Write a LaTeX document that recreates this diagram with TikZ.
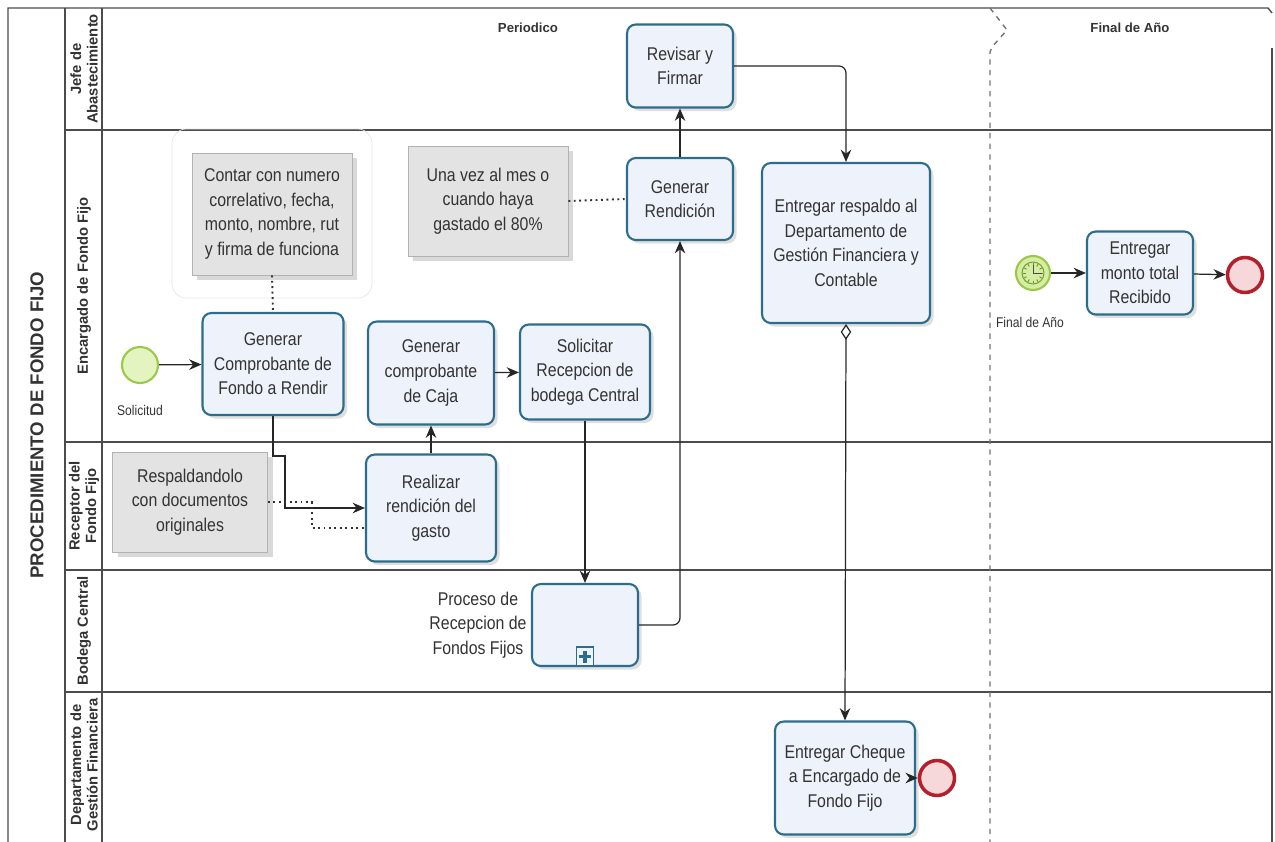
\documentclass[tikz,border=0pt]{standalone}
\usepackage{fontspec}
\setmainfont[FakeStretch=0.86]{Liberation Sans}
\newfontfamily\lanefont{Liberation Sans}
\usetikzlibrary{positioning,arrows.meta,shadows}

\definecolor{taskline}{HTML}{2C6D8C}
\definecolor{taskfill}{HTML}{EEF2FB}
\definecolor{notefill}{HTML}{E3E3E3}
\definecolor{startline}{HTML}{9AC84A}
\definecolor{startfill}{HTML}{E4F4C0}
\definecolor{timerfill}{HTML}{D6EEA2}
\definecolor{endline}{HTML}{B3202B}
\definecolor{endfill}{HTML}{F6D8DB}

\begin{document}
\begin{tikzpicture}[x=0.02cm, y=-0.02cm,
  every node/.style={inner sep=1pt, text=black!80},
  task/.style={draw=taskline, line width=1.2pt, rounded corners=5pt, fill=taskfill, align=center,
    font=\fontsize{10.5}{14}\selectfont,
    drop shadow={shadow xshift=2pt, shadow yshift=-2pt, opacity=0.25}},
  note/.style={draw=black!30, fill=notefill, align=center, font=\fontsize{10.5}{14}\selectfont,
    drop shadow={shadow xshift=3pt, shadow yshift=-3pt, opacity=0.3}},
  startev/.style={circle, draw=startline, line width=1.2pt, fill=startfill, minimum size=0.72cm, inner sep=0pt},
  endev/.style={circle, draw=endline, line width=2pt, fill=endfill, minimum size=0.7cm, inner sep=0pt},
  flow/.style={-{Stealth[length=7pt,width=6pt]}, black!85, line width=0.7pt},
  assoc/.style={dotted, line width=1.1pt, black!80},
  laneline/.style={black!70, line width=0.8pt},
  lanehead/.style={rotate=90, align=center, font=\lanefont\bfseries\fontsize{8.4}{9.4}\selectfont},
  small/.style={font=\fontsize{8}{9}\selectfont}]
\useasboundingbox (0,0) rectangle (1275,842);

% --- pool and lanes ---
\draw[laneline] (8,842) -- (8,8) -- (1268,8) -- (1272,13);
\draw[laneline] (1272,48) -- (1272,842);
\draw[laneline] (65,8) -- (65,842);
\draw[laneline] (102,8) -- (102,842);
\foreach \y in {130,442,570,692}
  \draw[laneline] (65,\y) -- (1272,\y);
\node[rotate=90, font=\lanefont\bfseries\fontsize{10.6}{12}\selectfont] (pool) at (37,425) {PROCEDIMIENTO DE FONDO FIJO};
\foreach \y/\t [count=\i] in {69/{Jefe de\\Abastecimiento}, 286/{Encargado de Fondo Fijo}, 506/{Receptor del\\Fondo Fijo}, 631/{Bodega Central}, 765/{Departamento de\\Gestión Financiera}}
  \node[lanehead] (lane\i) at (84,\y) {\t};

% --- milestones ---
\draw[dashed, black!55, line width=0.8pt] (990,8) -- (1007,30) -- (992,47) -- (990,52) -- (990,842);
\node[font=\lanefont\bfseries\fontsize{7.5}{9}\selectfont] (periodo) at (528,28) {Periodico};
\node[font=\lanefont\bfseries\fontsize{7.5}{9}\selectfont] (finalano) at (1130,28) {Final de Año};

% --- annotations ---
\draw[black!10, rounded corners=8pt] (172,129) rectangle (372,298);
\node[note, minimum width=3.2cm, minimum height=2.44cm] (notacontar) at (272,214) {Contar con numero\\correlativo, fecha,\\monto, nombre, rut\\y firma de funciona};
\node[note, minimum width=3.2cm, minimum height=2.2cm] (notames) at (488,201) {Una vez al mes o\\cuando haya\\gastado el 80\%};
\node[note, minimum width=3.1cm, minimum height=2cm] (notaresp) at (190,502) {Respaldandolo\\con documentos\\originales};

% --- tasks ---
\node[task, minimum width=2.12cm, minimum height=1.66cm] (revisar) at (680,66) {Revisar y\\Firmar};
\node[task, minimum width=2.12cm, minimum height=1.64cm] (genrend) at (680,199) {Generar\\Rendición};
\node[task, minimum width=3.36cm, minimum height=3.2cm] (entresp) at (846,243) {Entregar respaldo al\\Departamento de\\Gestión Financiera y\\Contable};
\node[task, minimum width=2.82cm, minimum height=2.04cm] (gencomp) at (273,364) {Generar\\Comprobante de\\Fondo a Rendir};
\node[task, minimum width=2.52cm, minimum height=2.06cm] (gencaja) at (431,373) {Generar\\comprobante\\de Caja};
\node[task, minimum width=2.6cm, minimum height=1.9cm] (solrec) at (585,372) {Solicitar\\Recepcion de\\bodega Central};
\node[task, minimum width=2.6cm, minimum height=2.14cm] (realizar) at (431,508) {Realizar\\rendición del\\gasto};
\node[task, minimum width=2.12cm, minimum height=1.64cm] (proceso) at (585,625) {};
\node[draw=taskline, line width=1pt, fill=taskfill, minimum width=0.34cm, minimum height=0.38cm, inner sep=0pt, anchor=south] (plus) at (proceso.south) {};
\draw[taskline, line width=2pt] ([xshift=-3.5pt]plus.center) -- ([xshift=3.5pt]plus.center)
  ([yshift=-3.5pt]plus.center) -- ([yshift=3.5pt]plus.center);
\node[align=center, font=\fontsize{10.5}{14}\selectfont] (proclabel) at (478,625) {Proceso de\\Recepcion de\\Fondos Fijos};
\node[task, minimum width=2.8cm, minimum height=2.26cm] (entcheque) at (845,778) {Entregar Cheque\\a Encargado de\\Fondo Fijo};
\node[task, minimum width=2.12cm, minimum height=1.66cm] (entmonto) at (1140,273) {Entregar\\monto total\\Recibido};

% --- events ---
\node[startev] (solicitud) at (140,365) {};
\node[small] (sollabel) at (140,410) {Solicitud};
\node[startev, fill=timerfill, minimum size=0.68cm] (timer) at (1033,273) {};
\draw[startline!80!black, line width=0.6pt] (timer.center) circle (11);
\foreach \a in {0,30,...,330}
  \draw[startline!70!black, line width=0.5pt] ([shift={(\a:7.5)}]timer.center) -- ([shift={(\a:10)}]timer.center);
\draw[black!70, line width=0.5pt] (timer.center) -- ++(0,-8) (timer.center) -- ++(9,0);
\node[small] (timerlabel) at (1030,322) {Final de Año};
\node[endev] (finA) at (1245,275) {};
\node[endev] (finB) at (937,778) {};

% --- sequence flows ---
\draw[flow] (solicitud) -- (gencomp);
\draw[flow] (gencomp.south) -- ++(0,40) -- ++(12,0) |- (realizar.west);
\draw[flow] (realizar) -- (gencaja);
\draw[flow] (gencaja) -- (solrec);
\draw[flow] (solrec.south) -- (proceso.north);
\draw[flow, rounded corners=4pt] (proceso.east) -| (genrend.south);
\draw[flow] (genrend) -- (revisar);
\draw[flow, rounded corners=4pt] (revisar.east) -| (entresp.north);
\draw[{Diamond[open,length=9pt,width=6pt]}-{Stealth[length=7pt,width=6pt]}, black!85, line width=0.7pt] (entresp.south) -- (entcheque.north);
\draw[flow] (entcheque) -- (finB);
\draw[flow] (timer) -- (entmonto);
\draw[flow] (entmonto) -- (finA);

% --- associations ---
\draw[assoc] (notacontar.south) -- (gencomp.north);
\draw[assoc] (notames.east) -- (genrend.west);
\draw[assoc] (notaresp.east) -- ++(44,0) |- ([yshift=-0.4cm]realizar.west);
\end{tikzpicture}
\end{document}
